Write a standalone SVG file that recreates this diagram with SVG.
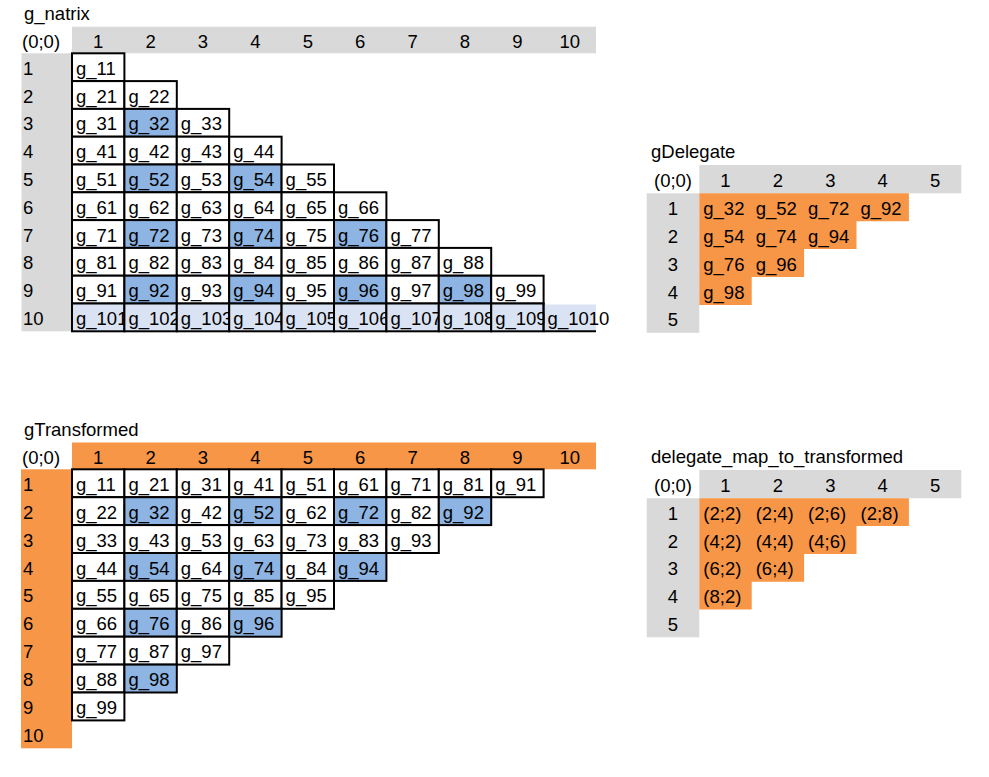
<svg xmlns="http://www.w3.org/2000/svg" width="989" height="777" viewBox="0 0 989 777">
<style>
text{font-family:"Liberation Sans",Arial,sans-serif;font-size:18.5px;fill:#000}
.m{text-anchor:middle}
.gr{fill:#D9D9D9}
.or{fill:#F79646}
.c{fill:#fff;stroke:#000;stroke-width:2}
.b{fill:#8DB4E2;stroke:#000;stroke-width:2}
.lb{fill:#DAE3F3;stroke:#000;stroke-width:2}
.ln{stroke:#000;stroke-width:2;fill:none}
</style>
<rect width="989" height="777" fill="#fff"/>

<g id="g_natrix">
<text x="24" y="20">g_natrix</text>
<rect class="gr" x="72" y="26.7" width="524" height="26.6"/>
<rect class="gr" x="21.5" y="53.3" width="50.5" height="278"/>
<text x="22" y="48.2">(0;0)</text>
<text class="m" x="98.2" y="48.2">1</text><text class="m" x="150.6" y="48.2">2</text><text class="m" x="203" y="48.2">3</text><text class="m" x="255.4" y="48.2">4</text><text class="m" x="307.8" y="48.2">5</text><text class="m" x="360.2" y="48.2">6</text><text class="m" x="412.6" y="48.2">7</text><text class="m" x="465" y="48.2">8</text><text class="m" x="517.4" y="48.2">9</text><text class="m" x="569.8" y="48.2">10</text>
<text x="23" y="74.8">1</text><text x="23" y="102.6">2</text><text x="23" y="130.4">3</text><text x="23" y="158.2">4</text><text x="23" y="186">5</text><text x="23" y="213.8">6</text><text x="23" y="241.6">7</text><text x="23" y="269.4">8</text><text x="23" y="297.2">9</text><text x="23" y="325">10</text>

<!-- row 1 -->
<rect class="c" x="72" y="53.3" width="52.4" height="27.8"/><text x="76" y="74.8">g_11</text>
<!-- row 2 -->
<rect class="c" x="72" y="81.1" width="52.4" height="27.8"/><text x="76" y="102.6">g_21</text>
<rect class="c" x="124.4" y="81.1" width="52.4" height="27.8"/><text x="128.4" y="102.6">g_22</text>
<!-- row 3 -->
<rect class="c" x="72" y="108.9" width="52.4" height="27.8"/><text x="76" y="130.4">g_31</text>
<rect class="b" x="124.4" y="108.9" width="52.4" height="27.8"/><text x="128.4" y="130.4">g_32</text>
<rect class="c" x="176.8" y="108.9" width="52.4" height="27.8"/><text x="180.8" y="130.4">g_33</text>
<!-- row 4 -->
<rect class="c" x="72" y="136.7" width="52.4" height="27.8"/><text x="76" y="158.2">g_41</text>
<rect class="c" x="124.4" y="136.7" width="52.4" height="27.8"/><text x="128.4" y="158.2">g_42</text>
<rect class="c" x="176.8" y="136.7" width="52.4" height="27.8"/><text x="180.8" y="158.2">g_43</text>
<rect class="c" x="229.2" y="136.7" width="52.4" height="27.8"/><text x="233.2" y="158.2">g_44</text>
<!-- row 5 -->
<rect class="c" x="72" y="164.5" width="52.4" height="27.8"/><text x="76" y="186">g_51</text>
<rect class="b" x="124.4" y="164.5" width="52.4" height="27.8"/><text x="128.4" y="186">g_52</text>
<rect class="c" x="176.8" y="164.5" width="52.4" height="27.8"/><text x="180.8" y="186">g_53</text>
<rect class="b" x="229.2" y="164.5" width="52.4" height="27.8"/><text x="233.2" y="186">g_54</text>
<rect class="c" x="281.6" y="164.5" width="52.4" height="27.8"/><text x="285.6" y="186">g_55</text>
<!-- row 6 -->
<rect class="c" x="72" y="192.3" width="52.4" height="27.8"/><text x="76" y="213.8">g_61</text>
<rect class="c" x="124.4" y="192.3" width="52.4" height="27.8"/><text x="128.4" y="213.8">g_62</text>
<rect class="c" x="176.8" y="192.3" width="52.4" height="27.8"/><text x="180.8" y="213.8">g_63</text>
<rect class="c" x="229.2" y="192.3" width="52.4" height="27.8"/><text x="233.2" y="213.8">g_64</text>
<rect class="c" x="281.6" y="192.3" width="52.4" height="27.8"/><text x="285.6" y="213.8">g_65</text>
<rect class="c" x="334" y="192.3" width="52.4" height="27.8"/><text x="338" y="213.8">g_66</text>
<!-- row 7 -->
<rect class="c" x="72" y="220.1" width="52.4" height="27.8"/><text x="76" y="241.6">g_71</text>
<rect class="b" x="124.4" y="220.1" width="52.4" height="27.8"/><text x="128.4" y="241.6">g_72</text>
<rect class="c" x="176.8" y="220.1" width="52.4" height="27.8"/><text x="180.8" y="241.6">g_73</text>
<rect class="b" x="229.2" y="220.1" width="52.4" height="27.8"/><text x="233.2" y="241.6">g_74</text>
<rect class="c" x="281.6" y="220.1" width="52.4" height="27.8"/><text x="285.6" y="241.6">g_75</text>
<rect class="b" x="334" y="220.1" width="52.4" height="27.8"/><text x="338" y="241.6">g_76</text>
<rect class="c" x="386.4" y="220.1" width="52.4" height="27.8"/><text x="390.4" y="241.6">g_77</text>
<!-- row 8 -->
<rect class="c" x="72" y="247.9" width="52.4" height="27.8"/><text x="76" y="269.4">g_81</text>
<rect class="c" x="124.4" y="247.9" width="52.4" height="27.8"/><text x="128.4" y="269.4">g_82</text>
<rect class="c" x="176.8" y="247.9" width="52.4" height="27.8"/><text x="180.8" y="269.4">g_83</text>
<rect class="c" x="229.2" y="247.9" width="52.4" height="27.8"/><text x="233.2" y="269.4">g_84</text>
<rect class="c" x="281.6" y="247.9" width="52.4" height="27.8"/><text x="285.6" y="269.4">g_85</text>
<rect class="c" x="334" y="247.9" width="52.4" height="27.8"/><text x="338" y="269.4">g_86</text>
<rect class="c" x="386.4" y="247.9" width="52.4" height="27.8"/><text x="390.4" y="269.4">g_87</text>
<rect class="c" x="438.8" y="247.9" width="52.4" height="27.8"/><text x="442.8" y="269.4">g_88</text>
<!-- row 9 -->
<rect class="c" x="72" y="275.7" width="52.4" height="27.8"/><text x="76" y="297.2">g_91</text>
<rect class="b" x="124.4" y="275.7" width="52.4" height="27.8"/><text x="128.4" y="297.2">g_92</text>
<rect class="c" x="176.8" y="275.7" width="52.4" height="27.8"/><text x="180.8" y="297.2">g_93</text>
<rect class="b" x="229.2" y="275.7" width="52.4" height="27.8"/><text x="233.2" y="297.2">g_94</text>
<rect class="c" x="281.6" y="275.7" width="52.4" height="27.8"/><text x="285.6" y="297.2">g_95</text>
<rect class="b" x="334" y="275.7" width="52.4" height="27.8"/><text x="338" y="297.2">g_96</text>
<rect class="c" x="386.4" y="275.7" width="52.4" height="27.8"/><text x="390.4" y="297.2">g_97</text>
<rect class="b" x="438.8" y="275.7" width="52.4" height="27.8"/><text x="442.8" y="297.2">g_98</text>
<rect class="c" x="491.2" y="275.7" width="52.4" height="27.8"/><text x="495.2" y="297.2">g_99</text>
<!-- row 10 (text clipped by next cell) -->
<rect class="lb" x="72" y="303.5" width="52.4" height="27.8"/><text x="76" y="325">g_101</text>
<rect class="lb" x="124.4" y="303.5" width="52.4" height="27.8"/><text x="128.4" y="325">g_102</text>
<rect class="lb" x="176.8" y="303.5" width="52.4" height="27.8"/><text x="180.8" y="325">g_103</text>
<rect class="lb" x="229.2" y="303.5" width="52.4" height="27.8"/><text x="233.2" y="325">g_104</text>
<rect class="lb" x="281.6" y="303.5" width="52.4" height="27.8"/><text x="285.6" y="325">g_105</text>
<rect class="lb" x="334" y="303.5" width="52.4" height="27.8"/><text x="338" y="325">g_106</text>
<rect class="lb" x="386.4" y="303.5" width="52.4" height="27.8"/><text x="390.4" y="325">g_107</text>
<rect class="lb" x="438.8" y="303.5" width="52.4" height="27.8"/><text x="442.8" y="325">g_108</text>
<rect class="lb" x="491.2" y="303.5" width="52.4" height="27.8"/><text x="495.2" y="325">g_109</text>
<rect fill="#DAE3F3" x="544.6" y="304.5" width="51.4" height="26.8"/>
<line class="ln" x1="543.6" y1="331.3" x2="596" y2="331.3"/>
<line class="ln" x1="543.6" y1="303.5" x2="543.6" y2="331.3"/>
<text x="547.6" y="325">g_1010</text>
</g>

<g id="gTransformed">
<text x="24" y="435.5">gTransformed</text>
<rect class="or" x="72" y="442.5" width="524" height="26.8"/>
<rect class="or" x="21" y="469.3" width="51" height="279"/>
<text x="22" y="464">(0;0)</text>
<text class="m" x="98.2" y="464">1</text><text class="m" x="150.6" y="464">2</text><text class="m" x="203" y="464">3</text><text class="m" x="255.4" y="464">4</text><text class="m" x="307.8" y="464">5</text><text class="m" x="360.2" y="464">6</text><text class="m" x="412.6" y="464">7</text><text class="m" x="465" y="464">8</text><text class="m" x="517.4" y="464">9</text><text class="m" x="569.8" y="464">10</text>
<text x="23" y="490.8">1</text><text x="23" y="518.7">2</text><text x="23" y="546.6">3</text><text x="23" y="574.5">4</text><text x="23" y="602.4">5</text><text x="23" y="630.3">6</text><text x="23" y="658.2">7</text><text x="23" y="686.1">8</text><text x="23" y="714">9</text><text x="23" y="741.9">10</text>
<!-- row 1 -->
<rect class="c" x="72" y="469.3" width="52.4" height="27.9"/><text x="76" y="490.8">g_11</text>
<rect class="c" x="124.4" y="469.3" width="52.4" height="27.9"/><text x="128.4" y="490.8">g_21</text>
<rect class="c" x="176.8" y="469.3" width="52.4" height="27.9"/><text x="180.8" y="490.8">g_31</text>
<rect class="c" x="229.2" y="469.3" width="52.4" height="27.9"/><text x="233.2" y="490.8">g_41</text>
<rect class="c" x="281.6" y="469.3" width="52.4" height="27.9"/><text x="285.6" y="490.8">g_51</text>
<rect class="c" x="334" y="469.3" width="52.4" height="27.9"/><text x="338" y="490.8">g_61</text>
<rect class="c" x="386.4" y="469.3" width="52.4" height="27.9"/><text x="390.4" y="490.8">g_71</text>
<rect class="c" x="438.8" y="469.3" width="52.4" height="27.9"/><text x="442.8" y="490.8">g_81</text>
<rect class="c" x="491.2" y="469.3" width="52.4" height="27.9"/><text x="495.2" y="490.8">g_91</text>
<!-- row 2 -->
<rect class="c" x="72" y="497.2" width="52.4" height="27.9"/><text x="76" y="518.7">g_22</text>
<rect class="b" x="124.4" y="497.2" width="52.4" height="27.9"/><text x="128.4" y="518.7">g_32</text>
<rect class="c" x="176.8" y="497.2" width="52.4" height="27.9"/><text x="180.8" y="518.7">g_42</text>
<rect class="b" x="229.2" y="497.2" width="52.4" height="27.9"/><text x="233.2" y="518.7">g_52</text>
<rect class="c" x="281.6" y="497.2" width="52.4" height="27.9"/><text x="285.6" y="518.7">g_62</text>
<rect class="b" x="334" y="497.2" width="52.4" height="27.9"/><text x="338" y="518.7">g_72</text>
<rect class="c" x="386.4" y="497.2" width="52.4" height="27.9"/><text x="390.4" y="518.7">g_82</text>
<rect class="b" x="438.8" y="497.2" width="52.4" height="27.9"/><text x="442.8" y="518.7">g_92</text>
<!-- row 3 -->
<rect class="c" x="72" y="525.1" width="52.4" height="27.9"/><text x="76" y="546.6">g_33</text>
<rect class="c" x="124.4" y="525.1" width="52.4" height="27.9"/><text x="128.4" y="546.6">g_43</text>
<rect class="c" x="176.8" y="525.1" width="52.4" height="27.9"/><text x="180.8" y="546.6">g_53</text>
<rect class="c" x="229.2" y="525.1" width="52.4" height="27.9"/><text x="233.2" y="546.6">g_63</text>
<rect class="c" x="281.6" y="525.1" width="52.4" height="27.9"/><text x="285.6" y="546.6">g_73</text>
<rect class="c" x="334" y="525.1" width="52.4" height="27.9"/><text x="338" y="546.6">g_83</text>
<rect class="c" x="386.4" y="525.1" width="52.4" height="27.9"/><text x="390.4" y="546.6">g_93</text>
<!-- row 4 -->
<rect class="c" x="72" y="553" width="52.4" height="27.9"/><text x="76" y="574.5">g_44</text>
<rect class="b" x="124.4" y="553" width="52.4" height="27.9"/><text x="128.4" y="574.5">g_54</text>
<rect class="c" x="176.8" y="553" width="52.4" height="27.9"/><text x="180.8" y="574.5">g_64</text>
<rect class="b" x="229.2" y="553" width="52.4" height="27.9"/><text x="233.2" y="574.5">g_74</text>
<rect class="c" x="281.6" y="553" width="52.4" height="27.9"/><text x="285.6" y="574.5">g_84</text>
<rect class="b" x="334" y="553" width="52.4" height="27.9"/><text x="338" y="574.5">g_94</text>
<!-- row 5 -->
<rect class="c" x="72" y="580.9" width="52.4" height="27.9"/><text x="76" y="602.4">g_55</text>
<rect class="c" x="124.4" y="580.9" width="52.4" height="27.9"/><text x="128.4" y="602.4">g_65</text>
<rect class="c" x="176.8" y="580.9" width="52.4" height="27.9"/><text x="180.8" y="602.4">g_75</text>
<rect class="c" x="229.2" y="580.9" width="52.4" height="27.9"/><text x="233.2" y="602.4">g_85</text>
<rect class="c" x="281.6" y="580.9" width="52.4" height="27.9"/><text x="285.6" y="602.4">g_95</text>
<!-- row 6 -->
<rect class="c" x="72" y="608.8" width="52.4" height="27.9"/><text x="76" y="630.3">g_66</text>
<rect class="b" x="124.4" y="608.8" width="52.4" height="27.9"/><text x="128.4" y="630.3">g_76</text>
<rect class="c" x="176.8" y="608.8" width="52.4" height="27.9"/><text x="180.8" y="630.3">g_86</text>
<rect class="b" x="229.2" y="608.8" width="52.4" height="27.9"/><text x="233.2" y="630.3">g_96</text>
<!-- row 7 -->
<rect class="c" x="72" y="636.7" width="52.4" height="27.9"/><text x="76" y="658.2">g_77</text>
<rect class="c" x="124.4" y="636.7" width="52.4" height="27.9"/><text x="128.4" y="658.2">g_87</text>
<rect class="c" x="176.8" y="636.7" width="52.4" height="27.9"/><text x="180.8" y="658.2">g_97</text>
<!-- row 8 -->
<rect class="c" x="72" y="664.6" width="52.4" height="27.9"/><text x="76" y="686.1">g_88</text>
<rect class="b" x="124.4" y="664.6" width="52.4" height="27.9"/><text x="128.4" y="686.1">g_98</text>
<!-- row 9 -->
<rect class="c" x="72" y="692.5" width="52.4" height="27.9"/><text x="76" y="714">g_99</text>
</g>

<g id="gDelegate">
<text x="651" y="158.3">gDelegate</text>
<rect class="gr" x="699.3" y="165" width="262" height="28.3"/>
<rect class="gr" x="646.7" y="193.3" width="52.6" height="139.5"/>
<path class="or" d="M699.3 193.3H908.9V221.2H856.5V249.1H804.1V277H751.7V304.9H699.3Z"/>
<text class="m" x="673" y="186.7">(0;0)</text>
<text class="m" x="725.5" y="186.7">1</text><text class="m" x="777.9" y="186.7">2</text><text class="m" x="830.3" y="186.7">3</text><text class="m" x="882.7" y="186.7">4</text><text class="m" x="935.1" y="186.7">5</text>
<text class="m" x="673" y="214.8">1</text><text class="m" x="673" y="242.7">2</text><text class="m" x="673" y="270.6">3</text><text class="m" x="673" y="298.5">4</text><text class="m" x="673" y="326.4">5</text>
<text x="703.3" y="214.8">g_32</text><text x="755.7" y="214.8">g_52</text><text x="808.1" y="214.8">g_72</text><text x="860.5" y="214.8">g_92</text>
<text x="703.3" y="242.7">g_54</text><text x="755.7" y="242.7">g_74</text><text x="808.1" y="242.7">g_94</text>
<text x="703.3" y="270.6">g_76</text><text x="755.7" y="270.6">g_96</text>
<text x="703.3" y="298.5">g_98</text>
</g>

<g id="delegate_map_to_transformed">
<text x="651" y="463.3">delegate_map_to_transformed</text>
<rect class="gr" x="699.3" y="470" width="262" height="28.3"/>
<rect class="gr" x="646.7" y="498.3" width="52.6" height="139"/>
<path class="or" d="M699.3 498.3H908.9V526.1H856.5V553.9H804.1V581.7H751.7V609.5H699.3Z"/>
<text class="m" x="673" y="491.7">(0;0)</text>
<text class="m" x="725.5" y="491.7">1</text><text class="m" x="777.9" y="491.7">2</text><text class="m" x="830.3" y="491.7">3</text><text class="m" x="882.7" y="491.7">4</text><text class="m" x="935.1" y="491.7">5</text>
<text class="m" x="673" y="519.8">1</text><text class="m" x="673" y="547.6">2</text><text class="m" x="673" y="575.4">3</text><text class="m" x="673" y="603.2">4</text><text class="m" x="673" y="631">5</text>
<text x="703.3" y="519.8">(2;2)</text><text x="755.7" y="519.8">(2;4)</text><text x="808.1" y="519.8">(2;6)</text><text x="860.5" y="519.8">(2;8)</text>
<text x="703.3" y="547.6">(4;2)</text><text x="755.7" y="547.6">(4;4)</text><text x="808.1" y="547.6">(4;6)</text>
<text x="703.3" y="575.4">(6;2)</text><text x="755.7" y="575.4">(6;4)</text>
<text x="703.3" y="603.2">(8;2)</text>
</g>
</svg>
